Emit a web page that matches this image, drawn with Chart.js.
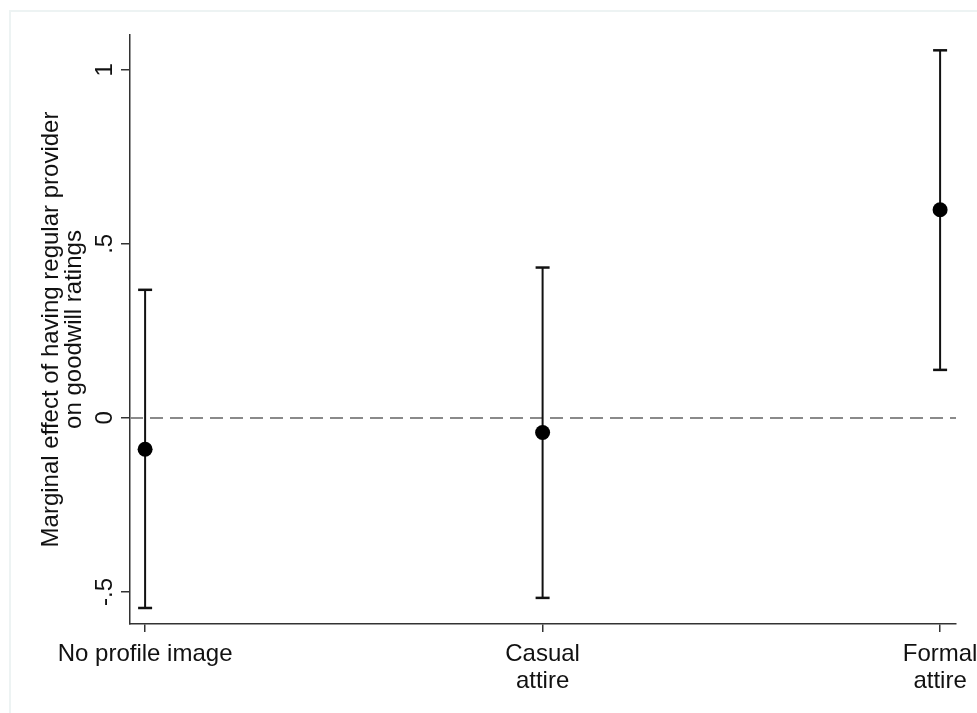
<!DOCTYPE html>
<html>
<head>
<meta charset="utf-8">
<script src="https://cdn.jsdelivr.net/npm/chart.js@4.4.1/dist/chart.umd.min.js"></script>
<style>
  html, body { margin: 0; padding: 0; background: #fff; }
  #wrap { position: relative; width: 977px; height: 713px; overflow: hidden; }
  #frame {
    position: absolute; left: 9px; top: 10px; right: -5px; bottom: -5px;
    border-left: 2px solid #edf3f3; border-top: 2px solid #edf3f3;
  }
  #chart { position: absolute; left: 0; top: 0; }
</style>
</head>
<body>
<div id="wrap">
  <div id="frame"></div>
  <canvas id="chart" width="977" height="713"></canvas>
</div>
<script>
// Categories and estimates
const categories = ['No profile image', ['Casual', 'attire'], ['Formal', 'attire']];
const estimates = [-0.09, -0.042, 0.598];
const lowerCI = [-0.546, -0.517, 0.138];
const upperCI = [0.368, 0.432, 1.056];

// Axis ticks
const yTickValues = [-0.5, 0, 0.5, 1];
const yTickLabels = ['-.5', '0', '.5', '1'];
const xTickValues = [0, 1, 2];
const yTitle = ['Marginal effect of having regular provider', 'on goodwill ratings'];

const xRange = [-0.038, 2.04];
const yRange = [-0.592, 1.10];

const FONT = '"Liberation Sans", Arial, sans-serif';

// Stata style y tick labels are rotated, Chart.js cannot do that on a y axis
const rotatedYTicks = {
    id: 'rotatedYTicks',
    afterDraw(chart) {
        const y = chart.scales.y;
        const ctx = chart.ctx;
        ctx.save();
        ctx.font = '24px ' + FONT;
        ctx.fillStyle = '#111';
        ctx.textAlign = 'center';
        ctx.textBaseline = 'alphabetic';
        yTickValues.forEach((v, i) => {
            const py = y.getPixelForValue(v);
            ctx.save();
            ctx.translate(112, py);
            ctx.rotate(-Math.PI / 2);
            ctx.fillText(yTickLabels[i], 0, 0);
            ctx.restore();
        });
        ctx.restore();
    }
};

// Build datasets from the arrays
const pointData = estimates.map((v, i) => ({ x: i, y: v }));
const ciDatasets = estimates.map((_, i) => ({
    type: 'line',
    data: [{ x: i, y: lowerCI[i] }, { x: i, y: upperCI[i] }],
    borderColor: '#111',
    borderWidth: 2,
    pointStyle: 'line',
    pointRadius: 7,
    pointBorderWidth: 2.5,
    pointBorderColor: '#111',
    clip: false
}));

const ctx = document.getElementById('chart');
const chart = new Chart(ctx.getContext('2d'), {
    type: 'scatter',
    data: {
        datasets: [
            {
                type: 'scatter',
                data: pointData,
                pointRadius: 7.5,
                backgroundColor: '#000',
                borderColor: '#000',
                borderWidth: 0,
                clip: false
            },
            ...ciDatasets,
            {
                type: 'line',
                data: [{ x: xRange[0], y: 0 }, { x: xRange[1], y: 0 }],
                borderColor: '#8a8a8a',
                borderWidth: 2,
                borderDash: [13, 7],
                pointRadius: 0
            }
        ]
    },
    options: {
        responsive: false,
        animation: false,
        events: [],
        layout: {
            padding: { top: 35, right: 21, left: 0, bottom: 0 }
        },
        plugins: {
            legend: { display: false },
            tooltip: { enabled: false }
        },
        scales: {
            x: {
                type: 'linear',
                min: xRange[0],
                max: xRange[1],
                afterBuildTicks: (scale) => {
                    scale.ticks = xTickValues.map(v => ({ value: v }));
                },
                afterFit: (scale) => {
                    scale.height = 89;
                    scale.paddingLeft = 0;
                    scale.paddingRight = 0;
                },
                ticks: {
                    autoSkip: false,
                    maxRotation: 0,
                    minRotation: 0,
                    padding: 9,
                    color: '#111',
                    font: { family: FONT, size: 24, lineHeight: 1.12 },
                    callback: (value) => categories[value]
                },
                grid: {
                    drawOnChartArea: false,
                    drawTicks: true,
                    tickLength: 8,
                    color: '#333',
                    lineWidth: 1.5
                },
                border: { display: true, color: '#333', width: 1.5 }
            },
            y: {
                type: 'linear',
                min: yRange[0],
                max: yRange[1],
                afterBuildTicks: (scale) => {
                    scale.ticks = yTickValues.map(v => ({ value: v }));
                },
                afterFit: (scale) => {
                    scale.width = 130;
                },
                ticks: { display: false },
                title: {
                    display: true,
                    text: yTitle,
                    color: '#111',
                    font: { family: FONT, size: 24, lineHeight: 0.95 },
                    padding: { top: 40, bottom: 0 }
                },
                grid: {
                    drawOnChartArea: false,
                    drawTicks: true,
                    tickLength: 9,
                    color: '#333',
                    lineWidth: 1.5
                },
                border: { display: true, color: '#333', width: 1.5 }
            }
        }
    },
    plugins: [rotatedYTicks]
});
</script>
</body>
</html>
